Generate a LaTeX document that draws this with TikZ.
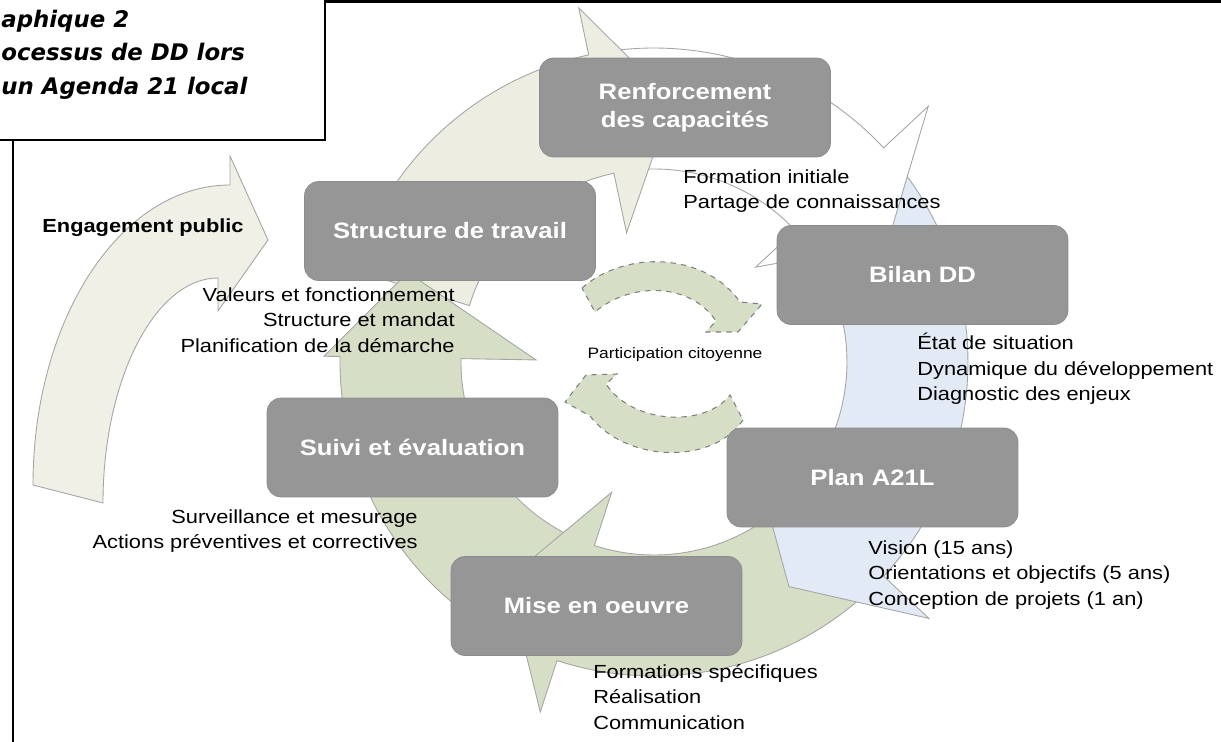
\documentclass[tikz,border=0pt]{standalone}
\usepackage{fontspec}
\setmainfont{Liberation Sans}[FakeStretch=1.15]
\newfontfamily\titlefont{DejaVu Sans}
\definecolor{stagegray}{RGB}{150,150,150}
\definecolor{stageedge}{RGB}{140,140,140}
\definecolor{arrowedge}{RGB}{165,165,165}
\definecolor{beige}{RGB}{237,238,225}
\definecolor{paleblue}{RGB}{226,234,246}
\definecolor{sage}{RGB}{215,222,198}
\definecolor{engfill}{RGB}{240,240,231}
\tikzset{%
  stage/.style = {shape=rectangle, rounded corners=0.28cm, fill=stagegray,%
                  draw=stageedge, line width=0.4pt, minimum width=5.82cm,%
                  minimum height=1.98cm, text=white, align=center,%
                  font=\fontsize{12.7}{16}\selectfont\bfseries},%
  note/.style  = {inner sep=0pt, font=\fontsize{10.8}{14.5}\selectfont,%
                  execute at begin node=\strut},%
  notel/.style = {note, anchor=north west, align=left},%
  noter/.style = {note, anchor=north east, align=right},%
  ringarrow/.style = {draw=arrowedge, line width=0.5pt},%
  civic/.style = {draw=gray, dashed, line width=0.6pt, fill=sage}%
}
\newcommand{\cyclearrow}[6]{%
  \filldraw[ringarrow,#1] plot[domain=#2:#3,samples=40] (\x:314) -- (#3:#5)
    -- (#4:262) -- (#3:#6) -- plot[domain=#3:#2,samples=40] (\x:193) -- cycle;}

\begin{document}
\begin{tikzpicture}[x=0.02cm, y=-0.02cm]
	\useasboundingbox (0,0) rectangle (1221,742);
	\clip (0,0) rectangle (1221,742);
	\begin{scope}[shift={(654,362)}, yscale=-1]
	\cyclearrow{fill=sage}{-112}{-160}{-166}{314}{193}
	\cyclearrow{fill=sage}{-40}{-108}{-124}{368}{137}
	\cyclearrow{fill=paleblue}{36}{-43}{-59}{376}{135}
	\cyclearrow{fill=white}{98}{43}{27}{375}{139}
	\cyclearrow{fill=beige}{163}{102}{86}{362}{132}
	\cyclearrow{fill=sage}{205}{179}{160}{330}{118}
	\end{scope}
	\filldraw[ringarrow, fill=engfill] (33,485) .. controls (33,320) and (120,185) .. (230,185)
		-- (230,156) -- (268,240) -- (218,311) -- (218,278)
		.. controls (155,278) and (103,380) .. (103,503) -- cycle;
	\node[font=\fontsize{10.8}{13}\selectfont\bfseries] (engage) at (143,228) {Engagement public};
	\filldraw[civic] (582,288) .. controls (625,250) and (705,252) .. (740,302)
		-- (762,304) -- (738,332) -- (706,332) -- (716,321)
		.. controls (690,282) and (630,282) .. (595,312) -- cycle;
	\filldraw[civic] (743,420) .. controls (712,466) and (625,462) .. (590,416)
		-- (565,402) -- (586,375) -- (617,374) -- (606,384)
		.. controls (632,424) and (705,428) .. (730,395) -- cycle;
	\node[font=\fontsize{8.6}{10}\selectfont] (part) at (675,355) {Participation citoyenne};
	\node[stage] (ren) at (685,107.5) {Renforcement\\des capacités};
	\node[stage] (str) at (450,231) {Structure de travail};
	\node[stage] (bil) at (922.5,275) {Bilan DD};
	\node[stage] (pla) at (872.5,477.5) {Plan A21L};
	\node[stage] (mis) at (596.5,606) {Mise en oeuvre};
	\node[stage] (sui) at (412.5,447.5) {Suivi et évaluation};
	\node[notel] (renNote) at (683,169) {Formation initiale\\Partage de connaissances};
	\node[noter] (strNote) at (455,287) {Valeurs et fonctionnement\\Structure et mandat\\Planification de la démarche};
	\node[notel] (bilNote) at (917,333) {État de situation\\Dynamique du développement\\Diagnostic des enjeux};
	\node[notel] (plaNote) at (868,540) {Vision (15 ans)\\Orientations et objectifs (5 ans)\\Conception de projets (1 an)};
	\node[noter] (suiNote) at (418,509) {Surveillance et mesurage\\Actions préventives et correctives};
	\node[notel] (misNote) at (593,664) {Formations spécifiques\\Réalisation\\Communication};
	\draw[fill=white, line width=1.2pt] (-5,-5) rectangle (325,140);
	\node[anchor=north west, inner sep=0pt, align=left, execute at begin node=\strut,
		font=\titlefont\fontsize{13}{19.1}\selectfont\bfseries\itshape] (title) at (1,9.5)
		{aphique 2\\ocessus de DD lors\\un Agenda 21 local};
	\draw[line width=1.2pt] (13,140) -- (13,742);
	\draw[line width=1.7pt] (325,1.5) -- (1221,1.5);
\end{tikzpicture}
\end{document}
